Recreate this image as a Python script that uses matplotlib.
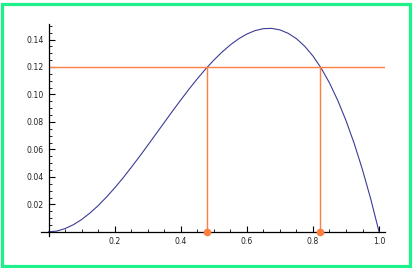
import matplotlib
matplotlib.use("Agg")
import matplotlib.pyplot as plt
from matplotlib.patches import Rectangle
from matplotlib.ticker import MultipleLocator, FixedLocator

# curve
x_vals = [0.0, 0.025, 0.05, 0.075, 0.1, 0.125, 0.15, 0.175, 0.2, 0.225,
          0.25, 0.275, 0.3, 0.325, 0.35, 0.375, 0.4, 0.425, 0.45, 0.475,
          0.5, 0.525, 0.55, 0.575, 0.6, 0.625, 0.65, 0.675, 0.7, 0.725,
          0.75, 0.775, 0.8, 0.825, 0.85, 0.875, 0.9, 0.925, 0.95, 0.975, 1.0]
y_vals = [0.0, 0.0006, 0.0024, 0.0052, 0.009, 0.0137, 0.0191, 0.0253, 0.032, 0.0392,
          0.0469, 0.0548, 0.063, 0.0713, 0.0796, 0.0879, 0.096, 0.1039, 0.1114, 0.1185,
          0.125, 0.1309, 0.1361, 0.1405, 0.144, 0.1465, 0.1479, 0.1481, 0.147, 0.1445,
          0.1406, 0.1351, 0.128, 0.1191, 0.1084, 0.0957, 0.081, 0.0642, 0.0451, 0.0238, 0.0]

level = 0.12
cross_x = [0.478, 0.822]
x_ticks = [0.2, 0.4, 0.6, 0.8, 1.0]
y_ticks = [0.02, 0.04, 0.06, 0.08, 0.10, 0.12, 0.14]

blue = "#3c3c96"
orange = "#ff7f3f"

fig = plt.figure(figsize=(4.14, 2.68), dpi=100)
ax = fig.add_axes([41 / 414, 1 - 236 / 268, 344 / 414, 211.6 / 268])

ax.plot(x_vals, y_vals, color=blue, lw=0.8)
ax.hlines(level, 0, 1.018, color=orange, lw=1.0)
for cx in cross_x:
    ax.vlines(cx, 0, level, color=orange, lw=1.0)
ax.plot(cross_x, [0, 0], "o", color=orange, ms=4.5, clip_on=False, zorder=5)

ax.set_xlim(-0.023, 1.018)
ax.set_ylim(-0.003, 0.151)

for s in ["top", "right"]:
    ax.spines[s].set_visible(False)
ax.spines["left"].set_position(("data", 0))
ax.spines["bottom"].set_position(("data", 0))
for s in ["left", "bottom"]:
    ax.spines[s].set_linewidth(0.9)

ax.xaxis.set_major_locator(FixedLocator(x_ticks))
ax.yaxis.set_major_locator(FixedLocator(y_ticks))
ax.xaxis.set_minor_locator(MultipleLocator(0.05))
ax.yaxis.set_minor_locator(MultipleLocator(0.005))
ax.set_xticklabels([f"{v:.1f}" for v in x_ticks])
ax.set_yticklabels([f"{v:.2f}" for v in y_ticks])
ax.tick_params(which="major", direction="in", length=4, width=0.8,
               labelsize=5.6, pad=3.6, labelcolor="#222222")
ax.tick_params(which="minor", direction="in", length=2, width=0.6)

# green frame round the picture
fig.patches.append(Rectangle((2.5 / 414, 2.5 / 268), 408 / 414, 262 / 268,
                             transform=fig.transFigure, fill=False,
                             edgecolor="#1ef08a", lw=2.3))

fig.savefig("out.png", dpi=100)
